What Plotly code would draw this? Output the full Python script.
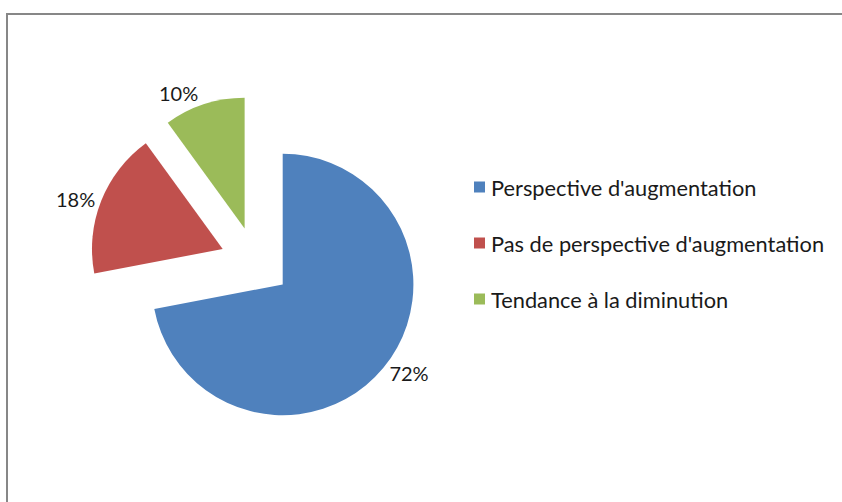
import plotly.graph_objects as go

# Survey answers and their shares (%)
categories = ["Perspective d'augmentation",
              "Pas de perspective d'augmentation",
              "Tendance à la diminution"]
shares = [72, 18, 10]
colors = ["#4F81BD", "#C0504D", "#9BBB59"]

W, H = 842, 502
FONT = "Lato"

fig = go.Figure()

fig.add_trace(go.Pie(
    labels=categories,
    values=shares,
    sort=False,
    direction="clockwise",
    rotation=0,
    pull=[0.27, 0.27, 0.27],
    marker=dict(colors=colors, line=dict(width=0)),
    texttemplate="%{value}%",
    textposition="outside",
    outsidetextfont=dict(family=FONT, size=20, color="#1a1a1a"),
    domain=dict(x=[0.1063, 0.5006], y=[0.1474, 0.8088]),
    showlegend=False,
    hoverinfo="label+percent",
))

# Legend: colour square + label for each category
legend_x = 474
legend_y = [187, 243, 299]
sq = 11
shapes = []
annotations = []
for lab, col, yy in zip(categories, colors, legend_y):
    shapes.append(dict(type="rect", xref="paper", yref="paper",
                       x0=legend_x / W, x1=(legend_x + sq) / W,
                       y0=1 - (yy + sq / 2) / H, y1=1 - (yy - sq / 2) / H,
                       fillcolor=col, line=dict(width=0)))
    annotations.append(dict(xref="paper", yref="paper",
                            x=(legend_x + sq + 4) / W, y=1 - yy / H,
                            xanchor="left", yanchor="middle",
                            text=lab, showarrow=False,
                            font=dict(family=FONT, size=21.8, color="#1a1a1a")))

# Chart-area frame (top and left edges; the rest runs off the page)
frame = dict(color="#878787", width=2)
shapes.append(dict(type="line", xref="paper", yref="paper",
                   x0=6 / W, x1=1.05, y0=1 - 14 / H, y1=1 - 14 / H,
                   line=frame, layer="above"))
shapes.append(dict(type="line", xref="paper", yref="paper",
                   x0=7 / W, x1=7 / W, y0=-0.05, y1=1 - 13 / H,
                   line=frame, layer="above"))

fig.update_layout(
    width=W, height=H,
    margin=dict(l=0, r=0, t=0, b=0, pad=0, autoexpand=False),
    paper_bgcolor="white",
    plot_bgcolor="white",
    shapes=shapes,
    annotations=annotations,
)

fig.write_html("out.html")
